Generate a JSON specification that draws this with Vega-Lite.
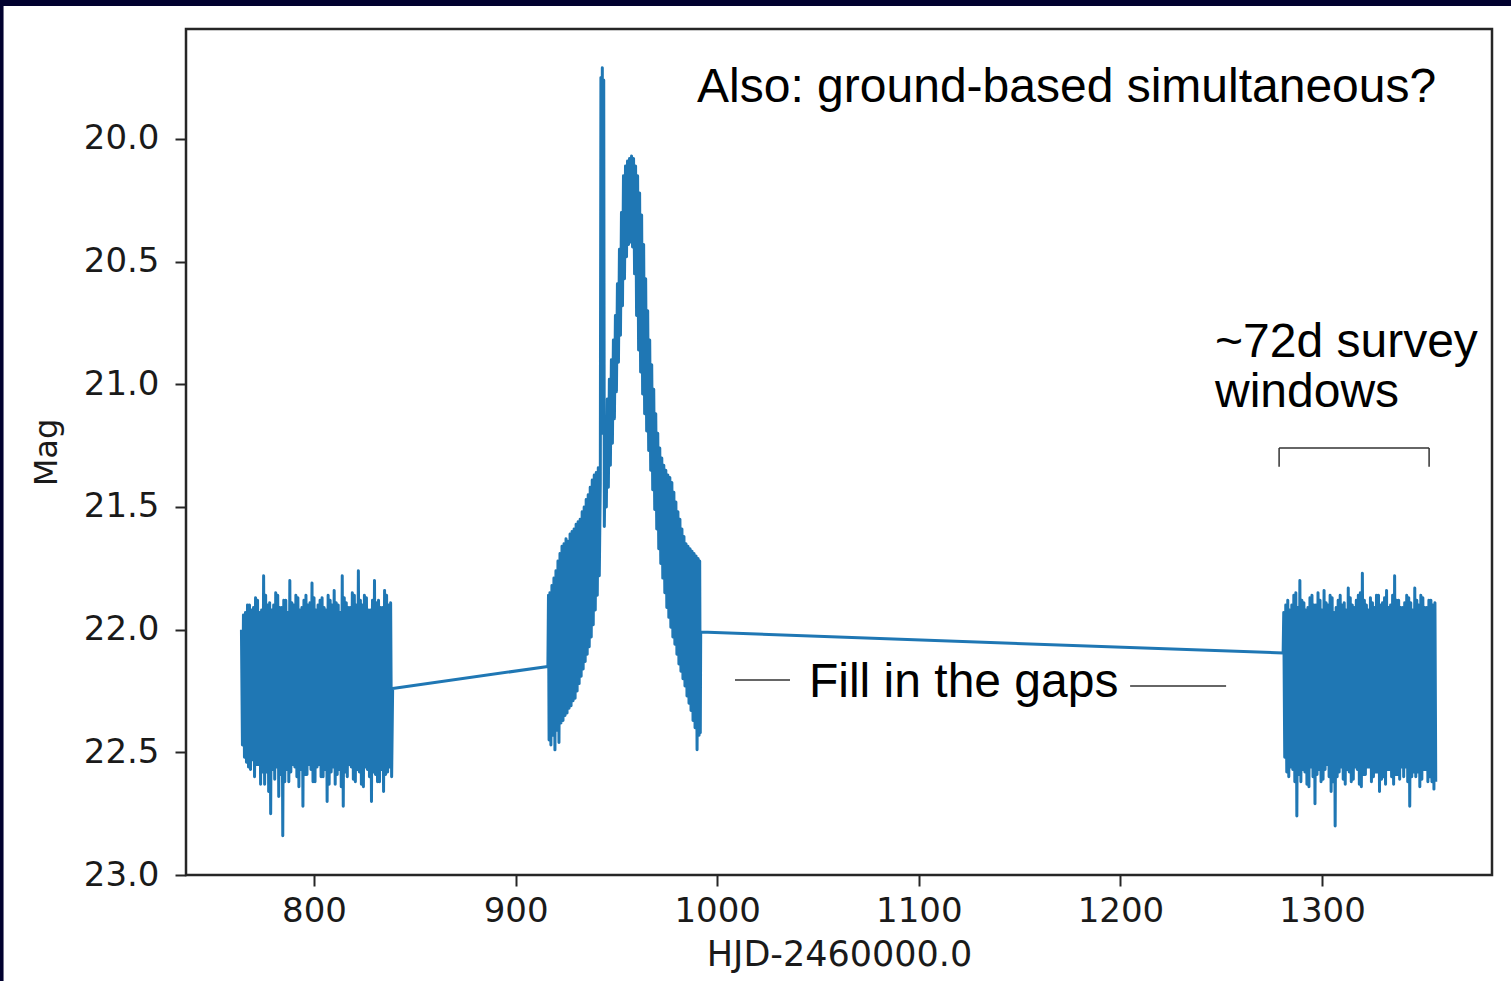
{
  "$schema": "https://vega.github.io/schema/vega-lite/v6.json",
  "width": 1306,
  "height": 846,
  "autosize": {"type": "none"},
  "padding": {"left": 186, "top": 29, "right": 19, "bottom": 106},
  "background": "#01012f",
  "config": {
    "view": {"stroke": null},
    "axis": {
      "domain": false,
      "grid": false,
      "labelFont": "DejaVu Sans",
      "labelFontSize": 34,
      "labelColor": "#1a1a1a",
      "tickColor": "#262626",
      "tickWidth": 2,
      "tickSize": 11,
      "titleFont": "DejaVu Sans",
      "titleFontWeight": "normal",
      "titleColor": "#1a1a1a"
    }
  },
  "datasets": {
    "lc": [
      {"t":764,"m":22.00},{"t":764.5,"m":22.47},{"t":765,"m":21.94},{"t":765.5,"m":22.52},{"t":766,"m":21.93},{"t":766.5,"m":22.54},
      {"t":767,"m":21.90},{"t":767.5,"m":22.56},{"t":768,"m":21.90},{"t":768.5,"m":22.57},{"t":769,"m":21.92},{"t":769.5,"m":22.53},
      {"t":770,"m":21.91},{"t":770.5,"m":22.60},{"t":771,"m":21.87},{"t":771.5,"m":22.55},{"t":772,"m":21.88},{"t":772.5,"m":22.55},
      {"t":773,"m":21.93},{"t":773.5,"m":22.63},{"t":774,"m":21.92},{"t":774.5,"m":22.58},{"t":775,"m":21.78},{"t":775.5,"m":22.63},
      {"t":776,"m":21.86},{"t":776.5,"m":22.58},{"t":777,"m":21.90},{"t":777.5,"m":22.66},{"t":778,"m":21.89},{"t":778.5,"m":22.75},
      {"t":779,"m":21.92},{"t":779.5,"m":22.57},{"t":780,"m":21.90},{"t":780.5,"m":22.61},{"t":781,"m":21.85},{"t":781.5,"m":22.56},
      {"t":782,"m":21.86},{"t":782.5,"m":22.68},{"t":783,"m":21.91},{"t":783.5,"m":22.59},{"t":784,"m":21.91},{"t":784.5,"m":22.84},
      {"t":785,"m":21.88},{"t":785.5,"m":22.62},{"t":786,"m":21.88},{"t":786.5,"m":22.57},{"t":787,"m":21.93},{"t":787.5,"m":22.62},
      {"t":788,"m":21.80},{"t":788.5,"m":22.58},{"t":789,"m":21.89},{"t":789.5,"m":22.55},{"t":790,"m":21.90},{"t":790.5,"m":22.56},
      {"t":791,"m":21.86},{"t":791.5,"m":22.60},{"t":792,"m":21.87},{"t":792.5,"m":22.64},{"t":793,"m":21.92},{"t":793.5,"m":22.57},
      {"t":794,"m":21.91},{"t":794.5,"m":22.72},{"t":795,"m":21.88},{"t":795.5,"m":22.59},{"t":796,"m":21.86},{"t":796.5,"m":22.59},
      {"t":797,"m":21.90},{"t":797.5,"m":22.55},{"t":798,"m":21.89},{"t":798.5,"m":22.57},{"t":799,"m":21.81},{"t":799.5,"m":22.62},
      {"t":800,"m":21.87},{"t":800.5,"m":22.62},{"t":801,"m":21.92},{"t":801.5,"m":22.56},{"t":802,"m":21.90},{"t":802.5,"m":22.55},
      {"t":803,"m":21.88},{"t":803.5,"m":22.60},{"t":804,"m":21.87},{"t":804.5,"m":22.60},{"t":805,"m":21.91},{"t":805.5,"m":22.57},
      {"t":806,"m":21.92},{"t":806.5,"m":22.70},{"t":807,"m":21.86},{"t":807.5,"m":22.63},{"t":808,"m":21.88},{"t":808.5,"m":22.58},
      {"t":809,"m":21.90},{"t":809.5,"m":22.56},{"t":810,"m":21.84},{"t":810.5,"m":22.63},{"t":811,"m":21.89},{"t":811.5,"m":22.59},
      {"t":812,"m":21.90},{"t":812.5,"m":22.57},{"t":813,"m":21.93},{"t":813.5,"m":22.64},{"t":814,"m":21.78},{"t":814.5,"m":22.72},
      {"t":815,"m":21.87},{"t":815.5,"m":22.58},{"t":816,"m":21.89},{"t":816.5,"m":22.60},{"t":817,"m":21.91},{"t":817.5,"m":22.55},
      {"t":818,"m":21.91},{"t":818.5,"m":22.56},{"t":819,"m":21.85},{"t":819.5,"m":22.61},{"t":820,"m":21.86},{"t":820.5,"m":22.62},
      {"t":821,"m":21.90},{"t":821.5,"m":22.57},{"t":822,"m":21.76},{"t":822.5,"m":22.58},{"t":823,"m":21.88},{"t":823.5,"m":22.63},
      {"t":824,"m":21.90},{"t":824.5,"m":22.64},{"t":825,"m":21.86},{"t":825.5,"m":22.56},{"t":826,"m":21.87},{"t":826.5,"m":22.57},
      {"t":827,"m":21.92},{"t":827.5,"m":22.60},{"t":828,"m":21.92},{"t":828.5,"m":22.70},{"t":829,"m":21.88},{"t":829.5,"m":22.58},
      {"t":830,"m":21.80},{"t":830.5,"m":22.59},{"t":831,"m":21.89},{"t":831.5,"m":22.62},{"t":832,"m":21.88},{"t":832.5,"m":22.62},
      {"t":833,"m":21.91},{"t":833.5,"m":22.57},{"t":834,"m":21.91},{"t":834.5,"m":22.66},{"t":835,"m":21.84},{"t":835.5,"m":22.59},
      {"t":836,"m":21.86},{"t":836.5,"m":22.58},{"t":837,"m":21.90},{"t":837.5,"m":22.56},{"t":838,"m":21.89},{"t":838.5,"m":22.60},
      {"t":839,"m":22.24},
      {"t":916.0,"m":22.15},{"t":916.3,"m":21.86},{"t":916.6,"m":22.45},{"t":917.0,"m":21.85},{"t":917.5,"m":22.47},
      {"t":918.0,"m":21.82},{"t":918.5,"m":22.43},{"t":919.0,"m":21.79},{"t":919.5,"m":22.49},{"t":920.0,"m":21.76},{"t":920.5,"m":22.41},
      {"t":921.0,"m":21.72},{"t":921.5,"m":22.46},{"t":922.0,"m":21.69},{"t":922.5,"m":22.38},{"t":923.0,"m":21.66},{"t":923.5,"m":22.37},
      {"t":924.0,"m":21.65},{"t":924.5,"m":22.35},{"t":925.0,"m":21.63},{"t":925.5,"m":22.34},{"t":926.0,"m":21.64},{"t":926.5,"m":22.32},
      {"t":927.0,"m":21.61},{"t":927.5,"m":22.31},{"t":928.0,"m":21.60},{"t":928.5,"m":22.29},{"t":929.0,"m":21.59},{"t":929.5,"m":22.28},
      {"t":930.0,"m":21.57},{"t":930.5,"m":22.25},{"t":931.0,"m":21.56},{"t":931.5,"m":22.22},{"t":932.0,"m":21.55},{"t":932.5,"m":22.19},
      {"t":933.0,"m":21.52},{"t":933.5,"m":22.16},{"t":934.0,"m":21.50},{"t":934.5,"m":22.13},{"t":935.0,"m":21.47},{"t":935.5,"m":22.10},
      {"t":936.0,"m":21.45},{"t":936.5,"m":22.07},{"t":937.0,"m":21.42},{"t":937.5,"m":22.03},{"t":938.0,"m":21.39},{"t":938.5,"m":21.98},
      {"t":939.0,"m":21.37},{"t":939.5,"m":21.92},{"t":940.0,"m":21.36},{"t":940.5,"m":21.86},{"t":941.0,"m":21.34},{"t":941.5,"m":21.78},
      {"t":942.0,"m":21.40},{"t":942.3,"m":19.75},{"t":942.65,"m":21.20},{"t":943.0,"m":19.71},{"t":943.35,"m":21.20},{"t":943.7,"m":19.76},
      {"t":944.0,"m":21.58},{"t":944.5,"m":21.20},
      {"t":945.0,"m":21.50},{"t":945.5,"m":21.06},{"t":946.0,"m":21.42},{"t":946.5,"m":20.98},{"t":947.0,"m":21.33},{"t":947.5,"m":20.90},
      {"t":948.0,"m":21.24},{"t":948.5,"m":20.82},{"t":949.0,"m":21.14},{"t":949.5,"m":20.72},{"t":950.0,"m":21.03},{"t":950.5,"m":20.59},
      {"t":951.0,"m":20.91},{"t":951.5,"m":20.45},{"t":952.0,"m":20.80},{"t":952.5,"m":20.30},{"t":953.0,"m":20.68},{"t":953.5,"m":20.15},
      {"t":954.0,"m":20.57},{"t":954.5,"m":20.11},{"t":955.0,"m":20.48},{"t":955.5,"m":20.09},{"t":956.0,"m":20.43},{"t":956.5,"m":20.08},
      {"t":957.0,"m":20.42},{"t":957.5,"m":20.07},{"t":958.0,"m":20.44},{"t":958.5,"m":20.08},{"t":959.0,"m":20.55},{"t":959.5,"m":20.11},
      {"t":960.0,"m":20.72},{"t":960.5,"m":20.15},{"t":961.0,"m":20.86},{"t":961.5,"m":20.22},{"t":962.0,"m":20.95},{"t":962.5,"m":20.31},
      {"t":963.0,"m":21.04},{"t":963.5,"m":20.43},{"t":964.0,"m":21.12},{"t":964.5,"m":20.57},{"t":965.0,"m":21.19},{"t":965.5,"m":20.70},
      {"t":966.0,"m":21.27},{"t":966.5,"m":20.82},{"t":967.0,"m":21.35},{"t":967.5,"m":20.92},{"t":968.0,"m":21.43},{"t":968.5,"m":21.02},
      {"t":969.0,"m":21.51},{"t":969.5,"m":21.12},{"t":970.0,"m":21.59},{"t":970.5,"m":21.20},{"t":971.0,"m":21.67},{"t":971.5,"m":21.26},
      {"t":972.0,"m":21.73},{"t":972.5,"m":21.30},{"t":973.0,"m":21.79},{"t":973.5,"m":21.33},{"t":974.0,"m":21.85},{"t":974.5,"m":21.35},
      {"t":975.0,"m":21.91},{"t":975.5,"m":21.37},{"t":976.0,"m":21.95},{"t":976.5,"m":21.38},{"t":977.0,"m":21.99},{"t":977.5,"m":21.40},
      {"t":978.0,"m":22.03},{"t":978.5,"m":21.44},{"t":979.0,"m":22.06},{"t":979.5,"m":21.48},{"t":980.0,"m":22.10},{"t":980.5,"m":21.52},
      {"t":981.0,"m":22.14},{"t":981.5,"m":21.55},{"t":982.0,"m":22.17},{"t":982.5,"m":21.59},{"t":983.0,"m":22.20},{"t":983.5,"m":21.62},
      {"t":984.0,"m":22.23},{"t":984.5,"m":21.65},{"t":985.0,"m":22.27},{"t":985.5,"m":21.66},{"t":986.0,"m":22.30},{"t":986.5,"m":21.67},
      {"t":987.0,"m":22.33},{"t":987.5,"m":21.68},{"t":988.0,"m":22.37},{"t":988.5,"m":21.69},{"t":989.0,"m":22.40},{"t":989.5,"m":21.70},
      {"t":990.0,"m":22.49},{"t":990.5,"m":21.71},{"t":991.0,"m":22.43},{"t":991.3,"m":21.72},{"t":991.6,"m":22.42},{"t":991.8,"m":22.01},
      {"t":1280.7,"m":22.095},
      {"t":1281,"m":21.93},{"t":1281.5,"m":22.52},{"t":1282,"m":21.90},{"t":1282.5,"m":22.58},{"t":1283,"m":21.88},{"t":1283.5,"m":22.60},
      {"t":1284,"m":21.92},{"t":1284.5,"m":22.56},{"t":1285,"m":21.90},{"t":1285.5,"m":22.57},{"t":1286,"m":21.86},{"t":1286.5,"m":22.62},
      {"t":1287,"m":21.85},{"t":1287.5,"m":22.76},{"t":1288,"m":21.91},{"t":1288.5,"m":22.59},{"t":1289,"m":21.80},{"t":1289.5,"m":22.62},
      {"t":1290,"m":21.88},{"t":1290.5,"m":22.57},{"t":1291,"m":21.89},{"t":1291.5,"m":22.58},{"t":1292,"m":21.92},{"t":1292.5,"m":22.63},
      {"t":1293,"m":21.91},{"t":1293.5,"m":22.64},{"t":1294,"m":21.87},{"t":1294.5,"m":22.56},{"t":1295,"m":21.86},{"t":1295.5,"m":22.60},
      {"t":1296,"m":21.90},{"t":1296.5,"m":22.71},{"t":1297,"m":21.90},{"t":1297.5,"m":22.59},{"t":1298,"m":21.85},{"t":1298.5,"m":22.57},
      {"t":1299,"m":21.88},{"t":1299.5,"m":22.62},{"t":1300,"m":21.92},{"t":1300.5,"m":22.61},{"t":1301,"m":21.84},{"t":1301.5,"m":22.57},
      {"t":1302,"m":21.89},{"t":1302.5,"m":22.55},{"t":1303,"m":21.90},{"t":1303.5,"m":22.60},{"t":1304,"m":21.86},{"t":1304.5,"m":22.66},
      {"t":1305,"m":21.87},{"t":1305.5,"m":22.62},{"t":1306,"m":21.93},{"t":1306.5,"m":22.80},{"t":1307,"m":21.91},{"t":1307.5,"m":22.60},
      {"t":1308,"m":21.88},{"t":1308.5,"m":22.58},{"t":1309,"m":21.86},{"t":1309.5,"m":22.56},{"t":1310,"m":21.90},{"t":1310.5,"m":22.61},
      {"t":1311,"m":21.89},{"t":1311.5,"m":22.63},{"t":1312,"m":21.92},{"t":1312.5,"m":22.57},{"t":1313,"m":21.83},{"t":1313.5,"m":22.58},
      {"t":1314,"m":21.87},{"t":1314.5,"m":22.62},{"t":1315,"m":21.90},{"t":1315.5,"m":22.61},{"t":1316,"m":21.91},{"t":1316.5,"m":22.56},
      {"t":1317,"m":21.88},{"t":1317.5,"m":22.57},{"t":1318,"m":21.86},{"t":1318.5,"m":22.63},{"t":1319,"m":21.85},{"t":1319.5,"m":22.64},
      {"t":1320,"m":21.77},{"t":1320.5,"m":22.59},{"t":1321,"m":21.88},{"t":1321.5,"m":22.59},{"t":1322,"m":21.90},{"t":1322.5,"m":22.56},
      {"t":1323,"m":21.92},{"t":1323.5,"m":22.56},{"t":1324,"m":21.87},{"t":1324.5,"m":22.62},{"t":1325,"m":21.89},{"t":1325.5,"m":22.60},
      {"t":1326,"m":21.91},{"t":1326.5,"m":22.58},{"t":1327,"m":21.86},{"t":1327.5,"m":22.58},{"t":1328,"m":21.86},{"t":1328.5,"m":22.66},
      {"t":1329,"m":21.90},{"t":1329.5,"m":22.61},{"t":1330,"m":21.89},{"t":1330.5,"m":22.60},{"t":1331,"m":21.87},{"t":1331.5,"m":22.63},
      {"t":1332,"m":21.84},{"t":1332.5,"m":22.57},{"t":1333,"m":21.91},{"t":1333.5,"m":22.57},{"t":1334,"m":21.90},{"t":1334.5,"m":22.60},
      {"t":1335,"m":21.86},{"t":1335.5,"m":22.63},{"t":1336,"m":21.78},{"t":1336.5,"m":22.59},{"t":1337,"m":21.88},{"t":1337.5,"m":22.59},
      {"t":1338,"m":21.88},{"t":1338.5,"m":22.61},{"t":1339,"m":21.91},{"t":1339.5,"m":22.56},{"t":1340,"m":21.91},{"t":1340.5,"m":22.60},
      {"t":1341,"m":21.89},{"t":1341.5,"m":22.56},{"t":1342,"m":21.86},{"t":1342.5,"m":22.62},{"t":1343,"m":21.87},{"t":1343.5,"m":22.72},
      {"t":1344,"m":21.89},{"t":1344.5,"m":22.60},{"t":1345,"m":21.92},{"t":1345.5,"m":22.58},{"t":1346,"m":21.83},{"t":1346.5,"m":22.60},
      {"t":1347,"m":21.88},{"t":1347.5,"m":22.58},{"t":1348,"m":21.90},{"t":1348.5,"m":22.64},{"t":1349,"m":21.86},{"t":1349.5,"m":22.61},
      {"t":1350,"m":21.87},{"t":1350.5,"m":22.57},{"t":1351,"m":21.91},{"t":1351.5,"m":22.57},{"t":1352,"m":21.91},{"t":1352.5,"m":22.62},
      {"t":1353,"m":21.88},{"t":1353.5,"m":22.60},{"t":1354,"m":21.88},{"t":1354.5,"m":22.62},{"t":1355,"m":21.90},{"t":1355.5,"m":22.65},
      {"t":1356,"m":21.89},{"t":1356.4,"m":22.62}
    ],
    "rules": [
      {"t1":1008.8,"t2":1036.1,"m1":22.205,"m2":22.205},
      {"t1":1204.8,"t2":1252.4,"m1":22.23,"m2":22.23},
      {"t1":1278.7,"t2":1353.1,"m1":21.26,"m2":21.26},
      {"t1":1278.7,"t2":1278.7,"m1":21.26,"m2":21.336},
      {"t1":1353.1,"t2":1353.1,"m1":21.26,"m2":21.336}
    ],
    "notes": [
      {"t":990.0,"m":19.849,"label":"Also: ground-based simultaneous?"},
      {"t":1246.9,"m":20.889,"label":"~72d survey"},
      {"t":1246.9,"m":21.092,"label":"windows"},
      {"t":1045.5,"m":22.274,"label":"Fill in the gaps"}
    ]
  },
  "layer": [
    {
      "data": {"values": [{}]},
      "mark": {"type": "rect", "fill": "#ffffff", "clip": false},
      "encoding": {
        "x": {"datum": 646, "type": "quantitative", "scale": {"domain": [736.5, 1384.3], "nice": false, "zero": false},
              "axis": {"zindex": 2, "values": [800, 900, 1000, 1100, 1200, 1300], "format": "d", "title": "HJD-2460000.0", "titleFontSize": 35, "labelPadding": 8, "titlePadding": 9}},
        "x2": {"datum": 1430},
        "y": {"datum": 19.458, "type": "quantitative", "scale": {"domain": [19.552, 23.0], "nice": false, "zero": false, "reverse": true},
              "axis": {"zindex": 2, "values": [20, 20.5, 21, 21.5, 22, 22.5, 23], "format": ".1f", "title": "Mag", "titleFontSize": 32, "labelPadding": 16, "titlePadding": 20}},
        "y2": {"datum": 23.8}
      }
    },
    {
      "data": {"name": "lc"},
      "mark": {"type": "line", "color": "#1f77b4", "strokeWidth": 3, "strokeJoin": "round", "clip": true},
      "encoding": {
        "x": {"field": "t", "type": "quantitative", "scale": {"domain": [736.5, 1384.3], "nice": false, "zero": false},
              "axis": {"zindex": 2, "values": [800, 900, 1000, 1100, 1200, 1300], "format": "d", "title": "HJD-2460000.0", "titleFontSize": 35, "labelPadding": 8, "titlePadding": 9}},
        "y": {"field": "m", "type": "quantitative", "scale": {"domain": [19.552, 23.0], "nice": false, "zero": false, "reverse": true},
              "axis": {"zindex": 2, "values": [20, 20.5, 21, 21.5, 22, 22.5, 23], "format": ".1f", "title": "Mag", "titleFontSize": 32, "labelPadding": 16, "titlePadding": 20}}
      }
    },
    {
      "data": {"name": "rules"},
      "mark": {"type": "rule", "color": "#333333", "strokeWidth": 1.5, "clip": false},
      "encoding": {
        "x": {"field": "t1", "type": "quantitative", "scale": {"domain": [736.5, 1384.3], "nice": false, "zero": false},
              "axis": {"zindex": 2, "values": [800, 900, 1000, 1100, 1200, 1300], "format": "d", "title": "HJD-2460000.0", "titleFontSize": 35, "labelPadding": 8, "titlePadding": 9}},
        "x2": {"field": "t2"},
        "y": {"field": "m1", "type": "quantitative", "scale": {"domain": [19.552, 23.0], "nice": false, "zero": false, "reverse": true},
              "axis": {"zindex": 2, "values": [20, 20.5, 21, 21.5, 22, 22.5, 23], "format": ".1f", "title": "Mag", "titleFontSize": 32, "labelPadding": 16, "titlePadding": 20}},
        "y2": {"field": "m2"}
      }
    },
    {
      "data": {"name": "notes"},
      "mark": {"type": "text", "font": "Liberation Sans", "fontSize": 48, "color": "#000000", "align": "left", "baseline": "alphabetic", "clip": false},
      "encoding": {
        "x": {"field": "t", "type": "quantitative", "scale": {"domain": [736.5, 1384.3], "nice": false, "zero": false},
              "axis": {"zindex": 2, "values": [800, 900, 1000, 1100, 1200, 1300], "format": "d", "title": "HJD-2460000.0", "titleFontSize": 35, "labelPadding": 8, "titlePadding": 9}},
        "y": {"field": "m", "type": "quantitative", "scale": {"domain": [19.552, 23.0], "nice": false, "zero": false, "reverse": true},
              "axis": {"zindex": 2, "values": [20, 20.5, 21, 21.5, 22, 22.5, 23], "format": ".1f", "title": "Mag", "titleFontSize": 32, "labelPadding": 16, "titlePadding": 20}},
        "text": {"field": "label", "type": "nominal"}
      }
    },
    {
      "data": {"values": [{}]},
      "mark": {"type": "rect", "filled": false, "stroke": "#262626", "strokeWidth": 2.5, "clip": false},
      "encoding": {
        "x": {"datum": 736.5, "type": "quantitative", "scale": {"domain": [736.5, 1384.3], "nice": false, "zero": false},
              "axis": {"zindex": 2, "values": [800, 900, 1000, 1100, 1200, 1300], "format": "d", "title": "HJD-2460000.0", "titleFontSize": 35, "labelPadding": 8, "titlePadding": 9}},
        "x2": {"datum": 1384.3},
        "y": {"datum": 19.552, "type": "quantitative", "scale": {"domain": [19.552, 23.0], "nice": false, "zero": false, "reverse": true},
              "axis": {"zindex": 2, "values": [20, 20.5, 21, 21.5, 22, 22.5, 23], "format": ".1f", "title": "Mag", "titleFontSize": 32, "labelPadding": 16, "titlePadding": 20}},
        "y2": {"datum": 23.0}
      }
    }
  ]
}
